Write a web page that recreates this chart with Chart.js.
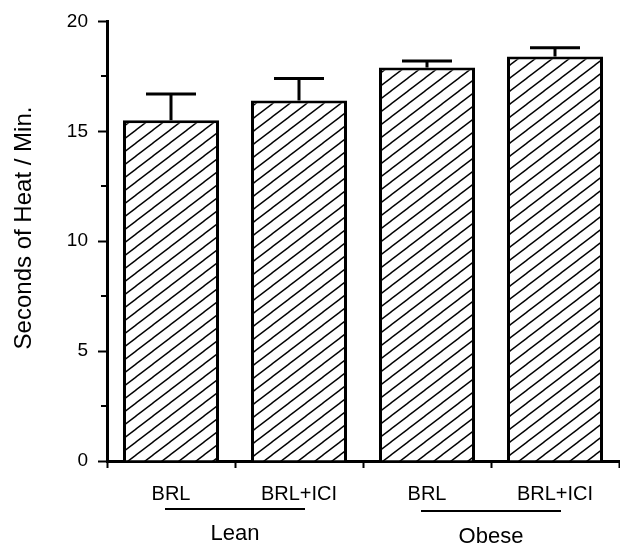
<!DOCTYPE html>
<html>
<head>
<meta charset="utf-8">
<script src="https://cdn.jsdelivr.net/npm/chart.js@4.4.1/dist/chart.umd.min.js"></script>
<style>
  html, body { margin: 0; padding: 0; background: #fff; }
</style>
</head>
<body>
<canvas id="heatChart" width="620" height="543"></canvas>
<script>
// data
const categories = ['BRL', 'BRL+ICI', 'BRL', 'BRL+ICI'];
const heatMeans = [15.5, 16.4, 17.9, 18.4];
const heatErrors = [1.2, 1.0, 0.3, 0.4];
const groupNames = ['Lean', 'Obese'];
const groupMembers = [[0, 1], [2, 3]];
const yMajorTicks = [0, 5, 10, 15, 20];
const yTitle = 'Seconds of Heat / Min.';

const FONT = "'Liberation Sans', Arial, Helvetica, sans-serif";
Chart.defaults.font.family = FONT;
Chart.defaults.color = '#000';

// diagonal "/" hatch
function hatchPattern() {
  const w = 17, h = 13;
  const c = document.createElement('canvas');
  c.width = w; c.height = h;
  const g = c.getContext('2d');
  g.fillStyle = '#fff';
  g.fillRect(0, 0, w, h);
  g.strokeStyle = '#000';
  g.lineWidth = 1.4;
  for (let k = -1; k <= 1; k++) {
    g.beginPath();
    g.moveTo(-w, h - (h / w) * (-w - k * w));
    g.lineTo(2 * w, h - (h / w) * (2 * w - k * w));
    g.stroke();
  }
  return g.createPattern(c, 'repeat');
}

const ctx = document.getElementById('heatChart').getContext('2d');

const errorBars = {
  id: 'errorBars',
  afterDatasetsDraw(chart) {
    const meta = chart.getDatasetMeta(0);
    const y = chart.scales.y;
    const c = chart.ctx;
    c.save();
    c.strokeStyle = '#000';
    c.lineWidth = 3;
    meta.data.forEach(function(bar, i) {
      const top = y.getPixelForValue(heatMeans[i] + heatErrors[i]);
      const base = y.getPixelForValue(heatMeans[i]);
      c.beginPath();
      c.moveTo(bar.x, base);
      c.lineTo(bar.x, top);
      c.moveTo(bar.x - 25, top);
      c.lineTo(bar.x + 25, top);
      c.stroke();
    });
    c.restore();
  }
};

// short minor ticks on the y axis, group labels, y title
const extras = {
  id: 'extras',
  afterDraw(chart) {
    const x = chart.scales.x;
    const y = chart.scales.y;
    const area = chart.chartArea;
    const c = chart.ctx;
    c.save();
    c.strokeStyle = '#000';
    c.lineWidth = 2;
    y.ticks.forEach(function(t) {
      if (yMajorTicks.includes(t.value)) return;
      const py = Math.round(y.getPixelForValue(t.value));
      c.beginPath();
      c.moveTo(area.left - 6, py);
      c.lineTo(area.left, py);
      c.stroke();
    });

    c.fillStyle = '#000';
    c.textAlign = 'center';
    c.textBaseline = 'alphabetic';
    c.font = '22px ' + FONT;
    groupNames.forEach(function(name, i) {
      const m = groupMembers[i];
      const cx = (x.getPixelForValue(m[0]) + x.getPixelForValue(m[1])) / 2;
      const lineY = i === 0 ? 509 : 511;
      c.beginPath();
      c.moveTo(cx - 70, lineY);
      c.lineTo(cx + 70, lineY);
      c.stroke();
      c.fillText(name, cx, i === 0 ? 540 : 543);
    });

    c.translate(31, 228);
    c.rotate(-Math.PI / 2);
    c.font = '24px ' + FONT;
    c.fillText(yTitle, 0, 0);
    c.restore();
  }
};

new Chart(ctx, {
  type: 'bar',
  data: {
    labels: categories,
    datasets: [{
      data: heatMeans,
      backgroundColor: hatchPattern(),
      borderColor: '#000',
      borderWidth: 3,
      barPercentage: 0.75,
      categoryPercentage: 1.0
    }]
  },
  options: {
    responsive: false,
    animation: false,
    devicePixelRatio: 1,
    layout: { padding: { top: 20, right: 1, left: 0, bottom: 0 } },
    plugins: {
      legend: { display: false },
      tooltip: { enabled: false }
    },
    scales: {
      x: {
        afterFit: function(scale) { scale.height = 82; },
        grid: {
          offset: true,
          drawOnChartArea: false,
          drawTicks: true,
          tickLength: 7,
          tickColor: '#000',
          tickWidth: 2
        },
        border: { display: true, color: '#000', width: 3 },
        ticks: { font: { size: 20 }, padding: 14, maxRotation: 0 }
      },
      y: {
        min: 0,
        max: 20,
        afterFit: function(scale) { scale.width = 107; },
        grid: {
          drawOnChartArea: false,
          drawTicks: true,
          tickLength: 9,
          tickColor: function(c) {
            return c.tick && yMajorTicks.includes(c.tick.value) ? '#000' : 'rgba(0,0,0,0)';
          },
          tickWidth: 2
        },
        border: { display: true, color: '#000', width: 3 },
        ticks: {
          stepSize: 2.5,
          padding: 10,
          font: { size: 19 },
          callback: function(v) { return yMajorTicks.includes(v) ? v : ''; }
        }
      }
    }
  },
  plugins: [errorBars, extras]
});
</script>
</body>
</html>
